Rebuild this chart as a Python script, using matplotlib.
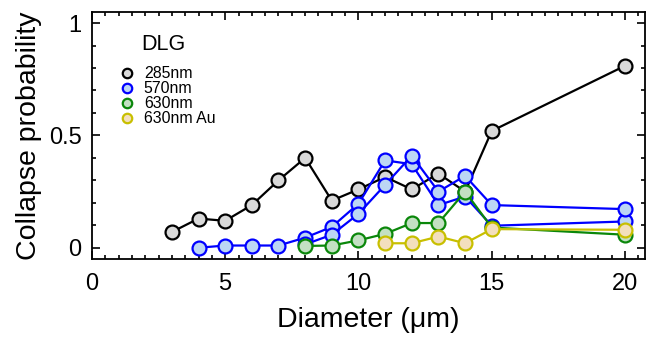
import matplotlib
matplotlib.use("Agg")
import matplotlib.pyplot as plt
from matplotlib.ticker import MultipleLocator

plt.rcParams['font.family'] = ['Liberation Sans', 'DejaVu Sans']

# collapse probability vs pillar diameter, DLG samples
x_285 = [3, 4, 5, 6, 7, 8, 9, 10, 11, 12, 13, 14, 15, 20]
y_285 = [0.07, 0.13, 0.12, 0.19, 0.30, 0.40, 0.21, 0.26, 0.315, 0.26, 0.33, 0.25, 0.52, 0.81]

x_570a = [4, 5, 6, 7, 8, 9, 10, 11, 12, 13, 14, 15, 20]
y_570a = [0.0, 0.01, 0.01, 0.01, 0.045, 0.093, 0.196, 0.389, 0.372, 0.19, 0.228, 0.098, 0.117]
x_570b = [8, 9, 10, 11, 12, 13, 14, 15, 20]
y_570b = [0.015, 0.058, 0.151, 0.28, 0.41, 0.25, 0.32, 0.19, 0.172]

x_630 = [8, 9, 10, 11, 12, 13, 14, 15, 20]
y_630 = [0.008, 0.01, 0.033, 0.062, 0.11, 0.11, 0.25, 0.09, 0.058]

x_au = [11, 12, 13, 14, 15, 20]
y_au = [0.02, 0.02, 0.05, 0.02, 0.083, 0.08]

fig = plt.figure(figsize=(6.47, 3.39), dpi=100)
ax = fig.add_axes([0.142, 0.236, 0.855, 0.729])

style = dict(marker='o', markersize=10, markeredgewidth=1.6, linewidth=1.6)
ax.plot(x_285, y_285, color='black', markerfacecolor='#d9d9d9', label='285nm', **style)
ax.plot(x_570a, y_570a, color='#0000ff', markerfacecolor='#bcd6f4', label='570nm', **style)
ax.plot(x_570b, y_570b, color='#0000ff', markerfacecolor='#bcd6f4', label='_nolegend_', **style)
ax.plot(x_630, y_630, color='#0a870a', markerfacecolor='#c3e0c3', label='630nm', **style)
ax.plot(x_au, y_au, color='#c8bf00', markerfacecolor='#f3dfbd', label='630nm Au', **style)

ax.set_xlim(0, 20.75)
ax.set_ylim(-0.05, 1.05)
ax.set_xticks([0, 5, 10, 15, 20])
ax.set_yticks([0, 0.5, 1])
ax.set_yticklabels(['0', '0.5', '1'])
ax.xaxis.set_minor_locator(MultipleLocator(0.5))
ax.yaxis.set_minor_locator(MultipleLocator(0.1))
ax.tick_params(which='both', direction='in', top=True, right=True, width=1.2)
ax.tick_params(which='major', length=6, labelsize=17)
ax.tick_params(axis='x', which='major', pad=10)
ax.tick_params(axis='y', which='major', pad=7.5)
ax.tick_params(which='minor', length=3)
for s in ax.spines.values():
    s.set_linewidth(1.3)

ax.set_xlabel('Diameter (μm)', fontsize=20.5, labelpad=9)
ax.set_ylabel('Collapse probability', fontsize=20.5, labelpad=5)

ax.text(0.09, 0.868, 'DLG', transform=ax.transAxes, fontsize=15.5, va='center', ha='left')
leg = ax.legend(loc='upper left', bbox_to_anchor=(0.052, 0.78), frameon=False,
                fontsize=11.4, markerscale=0.68, handlelength=0.8,
                handletextpad=0.66, labelspacing=0.0, borderaxespad=0, borderpad=0)
for h in leg.legend_handles:
    h.set_linestyle('None')
    h.set_linewidth(0)

fig.savefig('out.png', dpi=100)
